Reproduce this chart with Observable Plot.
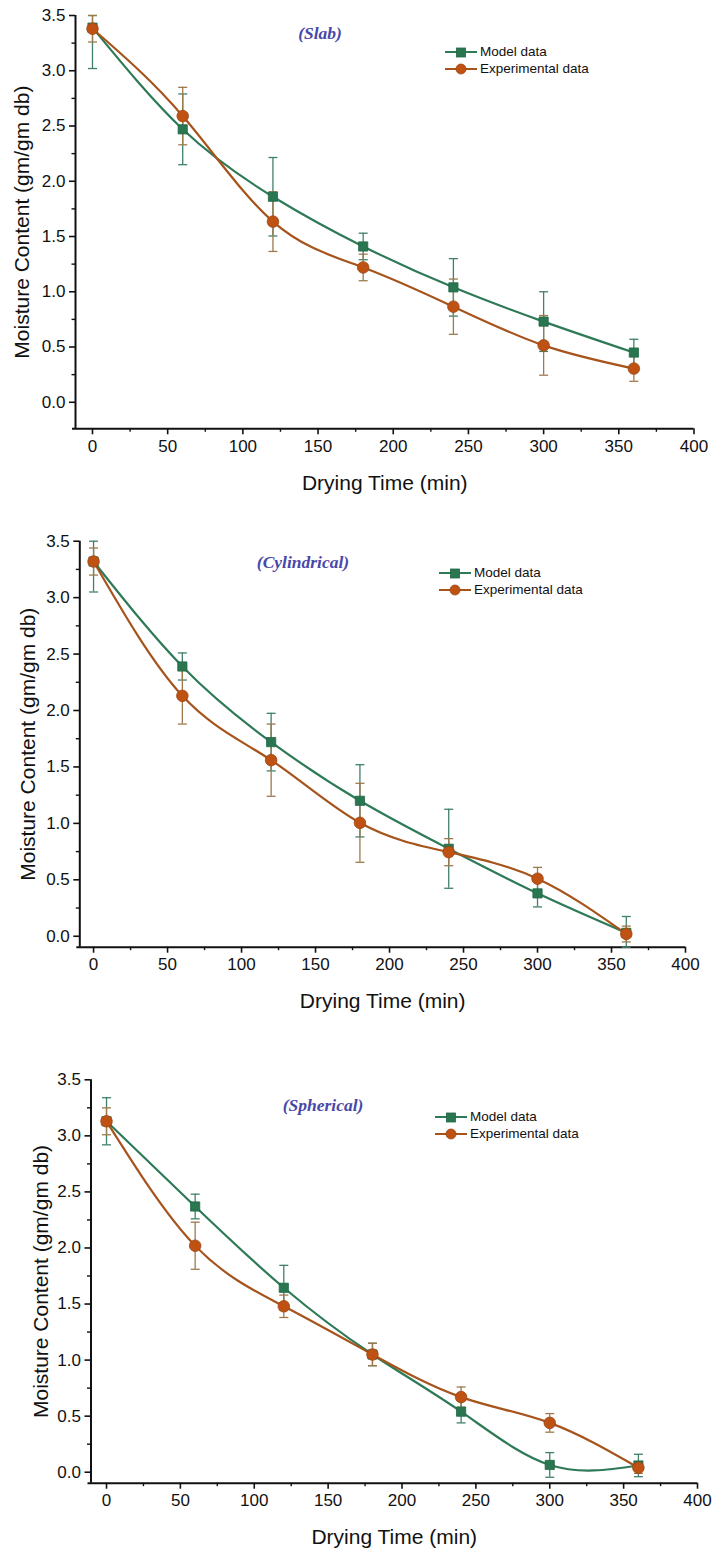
<!DOCTYPE html>
<html>
<head>
<meta charset="utf-8">
<script src="https://cdn.jsdelivr.net/npm/d3@7"></script>
<script src="https://cdn.jsdelivr.net/npm/@observablehq/plot@0.6"></script>
<style>
  body { margin: 0; background: #fff; }
  #page { position: relative; width: 712px; height: 1550px; overflow: hidden; font-family: "Liberation Sans", Arial, sans-serif; }
  .panel { position: absolute; left: 0; }
  .shape { position: absolute; font-family: "Liberation Serif", "Times New Roman", serif; font-weight: bold; font-style: italic; font-size: 17.5px; color: #4848a8; transform: translate(-50%, -50%); white-space: nowrap; }
  .legend { position: absolute; font-size: 13.5px; color: #111; line-height: 17px; }
  .legend .row { display: flex; align-items: center; height: 17px; }
  .legend svg { margin-right: 3px; }
</style>
</head>
<body>
<div id="page"></div>
<script>
// ---------- data ----------
const times = [0, 60, 120, 180, 240, 300, 360];
const seriesNames = ["Model data", "Experimental data"];
const panelTitles = ["(Slab)", "(Cylindrical)", "(Spherical)"];

const slabModel      = [3.39, 2.47, 1.86, 1.41, 1.04, 0.73, 0.45];
const slabModelErr   = [0.37, 0.32, 0.355, 0.12, 0.26, 0.27, 0.12];
const slabExp        = [3.38, 2.59, 1.635, 1.22, 0.865, 0.515, 0.305];
const slabExpErr     = [0.12, 0.26, 0.27, 0.12, 0.25, 0.27, 0.115];

const cylModel       = [3.32, 2.39, 1.72, 1.20, 0.775, 0.38, 0.03];
const cylModelErr    = [0.27, 0.12, 0.255, 0.32, 0.35, 0.12, 0.145];
const cylExp         = [3.32, 2.13, 1.56, 1.005, 0.745, 0.51, 0.02];
const cylExpErr      = [0.12, 0.25, 0.32, 0.35, 0.12, 0.10, 0.07];

const sphModel       = [3.13, 2.37, 1.645, 1.05, 0.54, 0.065, 0.06];
const sphModelErr    = [0.21, 0.11, 0.20, 0.10, 0.10, 0.11, 0.10];
const sphExp         = [3.13, 2.02, 1.48, 1.05, 0.67, 0.44, 0.04];
const sphExpErr      = [0.12, 0.21, 0.10, 0.10, 0.09, 0.083, 0.05];

const xTicks = [0, 50, 100, 150, 200, 250, 300, 350, 400];
const xMinorTicks = [25, 75, 125, 175, 225, 275, 325, 375];
const yTicks = [0, 0.5, 1.0, 1.5, 2.0, 2.5, 3.0, 3.5];
const yMinorTicks = [0.25, 0.75, 1.25, 1.75, 2.25, 2.75, 3.25];

const xLabel = "Drying Time (min)";
const yLabel = "Moisture Content (gm/gm db)";

// ---------- styles / layout ----------
const greenLine = "#2e7a57", greenMark = "#2a7650", greenErr = "#3f806a";
const brownLine = "#a6531c", brownMark = "#bf5112", brownErr = "#9d7a4c";

const panels = [
  { model: slabModel, modelErr: slabModelErr, exp: slabExp, expErr: slabExpErr,
    top: 0, height: 505, mt: 15, mb: 76.7, ml: 75, mr: 18.5, xdom: [-11.3, 400], ydom: [-0.24, 3.5],
    title: [320, 33], legend: [445, 43], ytitleDx: -53 },
  { model: cylModel, modelErr: cylModelErr, exp: cylExp, expErr: cylExpErr,
    top: 505, height: 540, mt: 35.7, mb: 98.3, ml: 79.3, mr: 27, xdom: [-9.3, 400], ydom: [-0.097, 3.5],
    title: [303, 562], legend: [439, 564], ytitleDx: -52 },
  { model: sphModel, modelErr: sphModelErr, exp: sphExp, expErr: sphExpErr,
    top: 1045, height: 505, mt: 34.3, mb: 67.3, ml: 90.5, mr: 15, xdom: [-10.5, 400], ydom: [-0.098, 3.5],
    title: [323, 1105], legend: [435, 1108], ytitleDx: -50 }
];

const capSymbol = {
  draw(context, size) {
    const w = Math.sqrt(size / Math.PI);
    context.moveTo(-w, 0);
    context.lineTo(w, 0);
  }
};

const page = document.getElementById("page");

panels.forEach((p, i) => {
  const clamp = v => Math.max(p.ydom[0], Math.min(p.ydom[1], v));
  const model = times.map((t, k) => ({ t, v: p.model[k], lo: clamp(p.model[k] - p.modelErr[k]), hi: clamp(p.model[k] + p.modelErr[k]) }));
  const exp = times.map((t, k) => ({ t, v: p.exp[k], lo: clamp(p.exp[k] - p.expErr[k]), hi: clamp(p.exp[k] + p.expErr[k]) }));
  const caps = (arr) => arr.flatMap(d => [{ t: d.t, v: d.lo }, { t: d.t, v: d.hi }]);

  const chart = Plot.plot({
    width: 712,
    height: p.height,
    marginTop: p.mt,
    marginBottom: p.mb,
    marginLeft: p.ml,
    marginRight: p.mr,
    style: { fontFamily: "'Liberation Sans', Arial, sans-serif", background: "#fff", color: "#111" },
    x: { domain: p.xdom },
    y: { domain: p.ydom },
    marks: [
      // axes
      Plot.axisX(xTicks, { tickSize: 6, tickPadding: 5, fontSize: 17, strokeWidth: 1.6, label: null, tickFormat: d3.format("d") }),
      Plot.axisX(xMinorTicks, { tickSize: 3.5, strokeWidth: 1.4, label: null, tickFormat: () => "" }),
      Plot.axisY(yTicks, { tickSize: 6, tickPadding: 4, fontSize: 17, strokeWidth: 1.6, label: null, tickFormat: d3.format(".1f") }),
      Plot.axisY(yMinorTicks, { tickSize: 3.5, strokeWidth: 1.4, label: null, tickFormat: () => "" }),
      Plot.ruleY([p.ydom[0]], { stroke: "#111", strokeWidth: 2, insetLeft: -3 }),
      Plot.ruleX([p.xdom[0]], { stroke: "#111", strokeWidth: 2 }),
      Plot.text([xLabel], { frameAnchor: "bottom", dy: 54, fontSize: 21, fill: "#111", lineAnchor: "middle" }),
      Plot.text([yLabel], { frameAnchor: "left", dx: p.ytitleDx, rotate: -90, fontSize: 21, fill: "#111", lineAnchor: "middle", textAnchor: "middle" }),
      // error bars
      Plot.ruleX(model, { x: "t", y1: "lo", y2: "hi", stroke: greenErr, strokeWidth: 1.3 }),
      Plot.dot(caps(model), { x: "t", y: "v", symbol: capSymbol, r: 4.5, stroke: greenErr, strokeWidth: 1.3, fill: "none" }),
      Plot.ruleX(exp, { x: "t", y1: "lo", y2: "hi", stroke: brownErr, strokeWidth: 1.3 }),
      Plot.dot(caps(exp), { x: "t", y: "v", symbol: capSymbol, r: 4.5, stroke: brownErr, strokeWidth: 1.3, fill: "none" }),
      // lines
      Plot.line(model, { x: "t", y: "v", curve: "natural", stroke: greenLine, strokeWidth: 2.2 }),
      Plot.line(exp, { x: "t", y: "v", curve: "natural", stroke: brownLine, strokeWidth: 2.2 }),
      // markers
      Plot.dot(model, { x: "t", y: "v", symbol: "square", r: 5.2, fill: greenMark, stroke: "#1f6a45", strokeWidth: 0.8 }),
      Plot.dot(exp, { x: "t", y: "v", symbol: "circle", r: 5.8, fill: brownMark, stroke: "#9a4614", strokeWidth: 0.8 })
    ]
  });
  const wrap = document.createElement("div");
  wrap.className = "panel";
  wrap.style.top = p.top + "px";
  wrap.appendChild(chart);
  page.appendChild(wrap);

  // panel title
  const t = document.createElement("div");
  t.className = "shape";
  t.style.left = p.title[0] + "px";
  t.style.top = p.title[1] + "px";
  t.textContent = panelTitles[i];
  page.appendChild(t);

  // legend
  const lg = document.createElement("div");
  lg.className = "legend";
  lg.style.left = p.legend[0] + "px";
  lg.style.top = p.legend[1] + "px";
  const rowSvg = (line, fill, stroke, square) =>
    `<svg width="32" height="12"><line x1="0" y1="6" x2="32" y2="6" stroke="${line}" stroke-width="2"/>` +
    (square ? `<rect x="11.5" y="2" width="9" height="9" fill="${fill}" stroke="${stroke}" stroke-width="0.8"/>`
            : `<circle cx="16" cy="6" r="5" fill="${fill}" stroke="${stroke}" stroke-width="0.8"/>`) + `</svg>`;
  lg.innerHTML =
    `<div class="row">${rowSvg(greenLine, greenMark, "#1f6a45", true)}<span>${seriesNames[0]}</span></div>` +
    `<div class="row">${rowSvg(brownLine, brownMark, "#9a4614", false)}<span>${seriesNames[1]}</span></div>`;
  page.appendChild(lg);
});
</script>
</body>
</html>
